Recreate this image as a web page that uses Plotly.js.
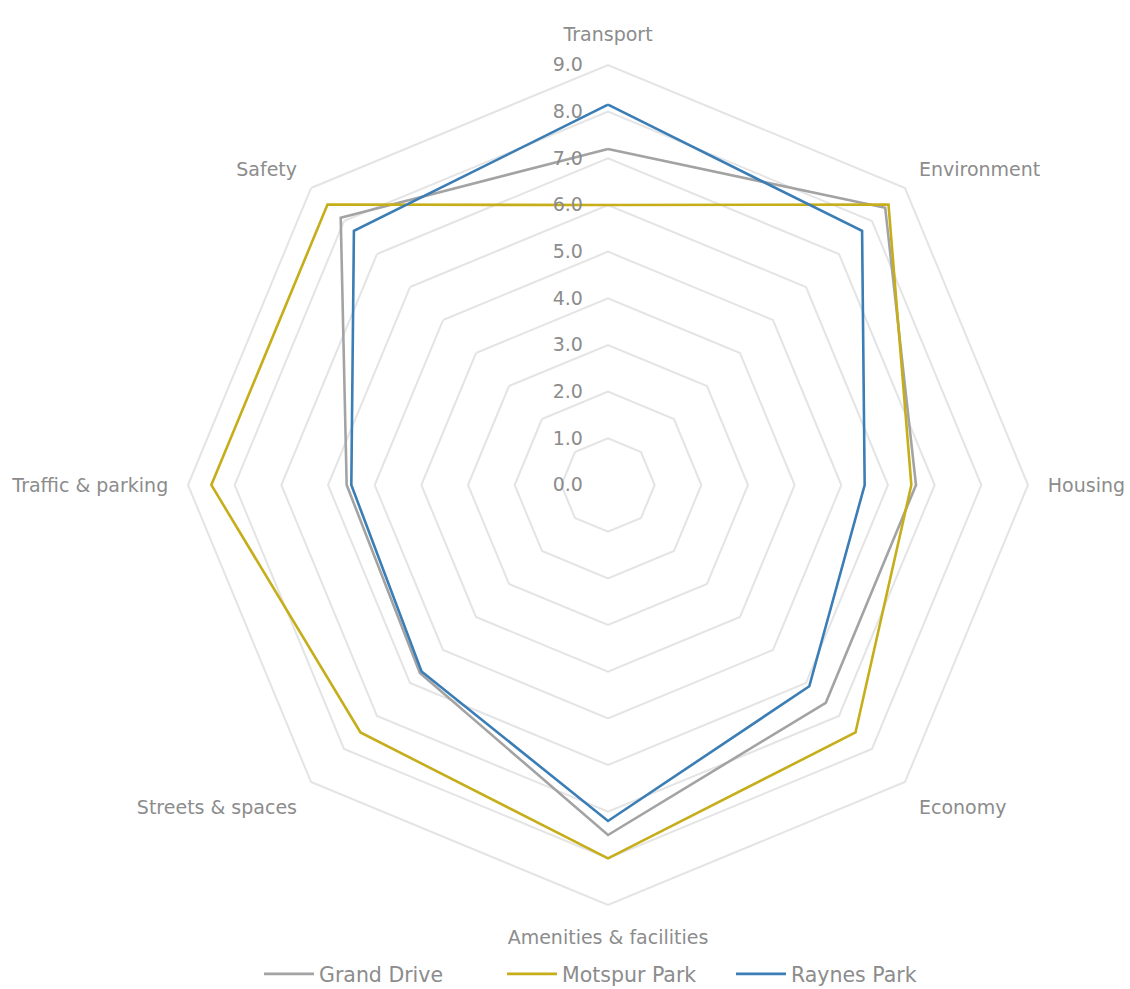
<!DOCTYPE html>
<html>
<head>
<meta charset="utf-8">
<script src="https://cdn.plot.ly/plotly-3.0.1.min.js"></script>
<style>html,body{margin:0;padding:0;background:#fff;}#chart{width:1130px;height:989px;}</style>
</head>
<body>
<div id="chart"></div>
<script>
const categories = ["Transport", "Environment", "Housing", "Economy", "Amenities & facilities", "Streets & spaces", "Traffic & parking", "Safety"];
const grandDrive = [7.2, 8.4, 6.6, 6.6, 7.5, 5.7, 5.6, 8.1];
const motspurPark = [6.0, 8.5, 6.5, 7.5, 8.0, 7.5, 8.5, 8.5];
const raynesPark = [8.15, 7.7, 5.5, 6.1, 7.2, 5.65, 5.5, 7.7];
const radialTicks = [0, 1, 2, 3, 4, 5, 6, 7, 8, 9];
const radialTickText = radialTicks.map(v => v.toFixed(1));

const seriesNames = ["Grand Drive", "Motspur Park", "Raynes Park"];
const seriesValues = [grandDrive, motspurPark, raynesPark];
const seriesColors = ["#a3a3a3", "#c6ad1a", "#3b7db5"];
const legendIds = ["legend", "legend2", "legend3"];

const traces = seriesValues.map((vals, i) => ({
  type: "scatterpolar",
  mode: "lines",
  name: seriesNames[i],
  legend: legendIds[i],
  r: vals.concat([vals[0]]),
  theta: categories.concat([categories[0]]),
  line: {color: seriesColors[i], width: 2.6},
  hoverinfo: "skip"
}));

const gridColor = "#e4e4e4";
const textColor = "#8c8c8c";
const fontFam = "'DejaVu Sans', sans-serif";

function legendAt(px) {
  return {
    orientation: "h",
    xref: "container", yref: "container",
    x: px / 1130, xanchor: "left",
    y: 15 / 989, yanchor: "middle",
    font: {size: 20.5, color: textColor, family: fontFam},
    itemwidth: 50,
    bgcolor: "rgba(0,0,0,0)"
  };
}

const layout = {
  width: 1130,
  height: 989,
  margin: {l: 188, r: 102, t: 65, b: 84, autoexpand: false},
  paper_bgcolor: "#ffffff",
  font: {family: fontFam, color: textColor, size: 19},
  showlegend: true,
  legend: legendAt(259),
  legend2: legendAt(502),
  legend3: legendAt(731),
  polar: {
    gridshape: "linear",
    bgcolor: "rgba(0,0,0,0)",
    angularaxis: {
      direction: "clockwise",
      rotation: 90,
      showgrid: false,
      showline: true,
      linecolor: gridColor,
      linewidth: 2,
      ticks: "outside",
      ticklen: 15,
      tickcolor: "rgba(0,0,0,0)",
      tickfont: {size: 19, color: textColor, family: fontFam}
    },
    radialaxis: {
      range: [0, 9],
      tickvals: radialTicks,
      ticktext: radialTickText,
      angle: 90,
      tickangle: 90,
      side: "counterclockwise",
      showline: false,
      ticks: "outside",
      ticklen: 18,
      tickcolor: "rgba(0,0,0,0)",
      showgrid: true,
      gridcolor: gridColor,
      gridwidth: 2,
      tickfont: {size: 19, color: textColor, family: fontFam}
    }
  }
};

Plotly.newPlot("chart", traces, layout, {displayModeBar: false, staticPlot: true});
</script>
</body>
</html>
